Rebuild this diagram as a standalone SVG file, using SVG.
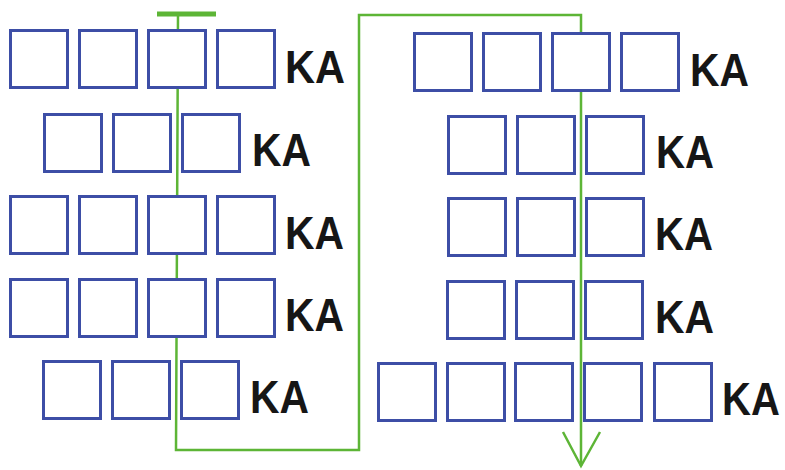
<svg xmlns="http://www.w3.org/2000/svg" width="785" height="470" viewBox="0 0 785 470">
<style>
.b{fill:#fff;stroke:#3d4ea6;stroke-width:3}
.t{font-family:"Liberation Sans",Arial,sans-serif;font-weight:bold;font-size:46px;fill:#161616}
.g{fill:none;stroke:#5db536;stroke-width:2.5}
</style>
<defs>
<rect id="sq" class="b" width="57" height="57"/>
</defs>
<rect width="785" height="470" fill="#fff"/>
<g id="connectors">
<line x1="157" y1="14" x2="216" y2="14" stroke="#5db536" stroke-width="5"/>
<path class="g" d="M178,14 L176,450 L359,450 L359,15 L581,15 L581,466"/>
<path class="g" d="M563,432 L581,466 L600,432"/>
</g>
<g id="L1">
<use href="#sq" x="10.5" y="30.5"/><use href="#sq" x="79.5" y="30.5"/><use href="#sq" x="148.5" y="30.5"/><use href="#sq" x="217.5" y="30.5"/>
<text class="t" x="285" y="83" textLength="60" lengthAdjust="spacingAndGlyphs">KA</text>
</g>
<g id="L2">
<use href="#sq" x="44.5" y="114.5"/><use href="#sq" x="113.5" y="114.5"/><use href="#sq" x="182.5" y="114.5"/>
<text class="t" x="252" y="166" textLength="59" lengthAdjust="spacingAndGlyphs">KA</text>
</g>
<g id="L3">
<use href="#sq" x="10.5" y="196.5"/><use href="#sq" x="79.5" y="196.5"/><use href="#sq" x="148.5" y="196.5"/><use href="#sq" x="217.5" y="196.5"/>
<text class="t" x="285" y="249" textLength="59" lengthAdjust="spacingAndGlyphs">KA</text>
</g>
<g id="L4">
<use href="#sq" x="10.5" y="279.5"/><use href="#sq" x="79.5" y="279.5"/><use href="#sq" x="148.5" y="279.5"/><use href="#sq" x="217.5" y="279.5"/>
<text class="t" x="285" y="331" textLength="59" lengthAdjust="spacingAndGlyphs">KA</text>
</g>
<g id="L5">
<use href="#sq" x="43.5" y="361.5"/><use href="#sq" x="112.5" y="361.5"/><use href="#sq" x="181.5" y="361.5"/>
<text class="t" x="250" y="413" textLength="59" lengthAdjust="spacingAndGlyphs">KA</text>
</g>
<g id="R1">
<use href="#sq" x="414.5" y="33.5"/><use href="#sq" x="483.5" y="33.5"/><use href="#sq" x="552.5" y="33.5"/><use href="#sq" x="621.5" y="33.5"/>
<text class="t" x="690" y="86" textLength="59" lengthAdjust="spacingAndGlyphs">KA</text>
</g>
<g id="R2">
<use href="#sq" x="448.5" y="116.5"/><use href="#sq" x="517.5" y="116.5"/><use href="#sq" x="586.5" y="116.5"/>
<text class="t" x="656" y="168" textLength="58" lengthAdjust="spacingAndGlyphs">KA</text>
</g>
<g id="R3">
<use href="#sq" x="448.5" y="198.5"/><use href="#sq" x="517.5" y="198.5"/><use href="#sq" x="586.5" y="198.5"/>
<text class="t" x="655" y="250" textLength="58" lengthAdjust="spacingAndGlyphs">KA</text>
</g>
<g id="R4">
<use href="#sq" x="447.5" y="281.5"/><use href="#sq" x="516.5" y="281.5"/><use href="#sq" x="585.5" y="281.5"/>
<text class="t" x="655" y="333" textLength="59" lengthAdjust="spacingAndGlyphs">KA</text>
</g>
<g id="R5">
<use href="#sq" x="378.5" y="363.5"/><use href="#sq" x="447.5" y="363.5"/><use href="#sq" x="515.5" y="363.5"/><use href="#sq" x="584.5" y="363.5"/><use href="#sq" x="654.5" y="363.5"/>
<text class="t" transform="translate(722,415) scale(0.87,1)" x="0" y="0">KA</text>
</g>
</svg>
